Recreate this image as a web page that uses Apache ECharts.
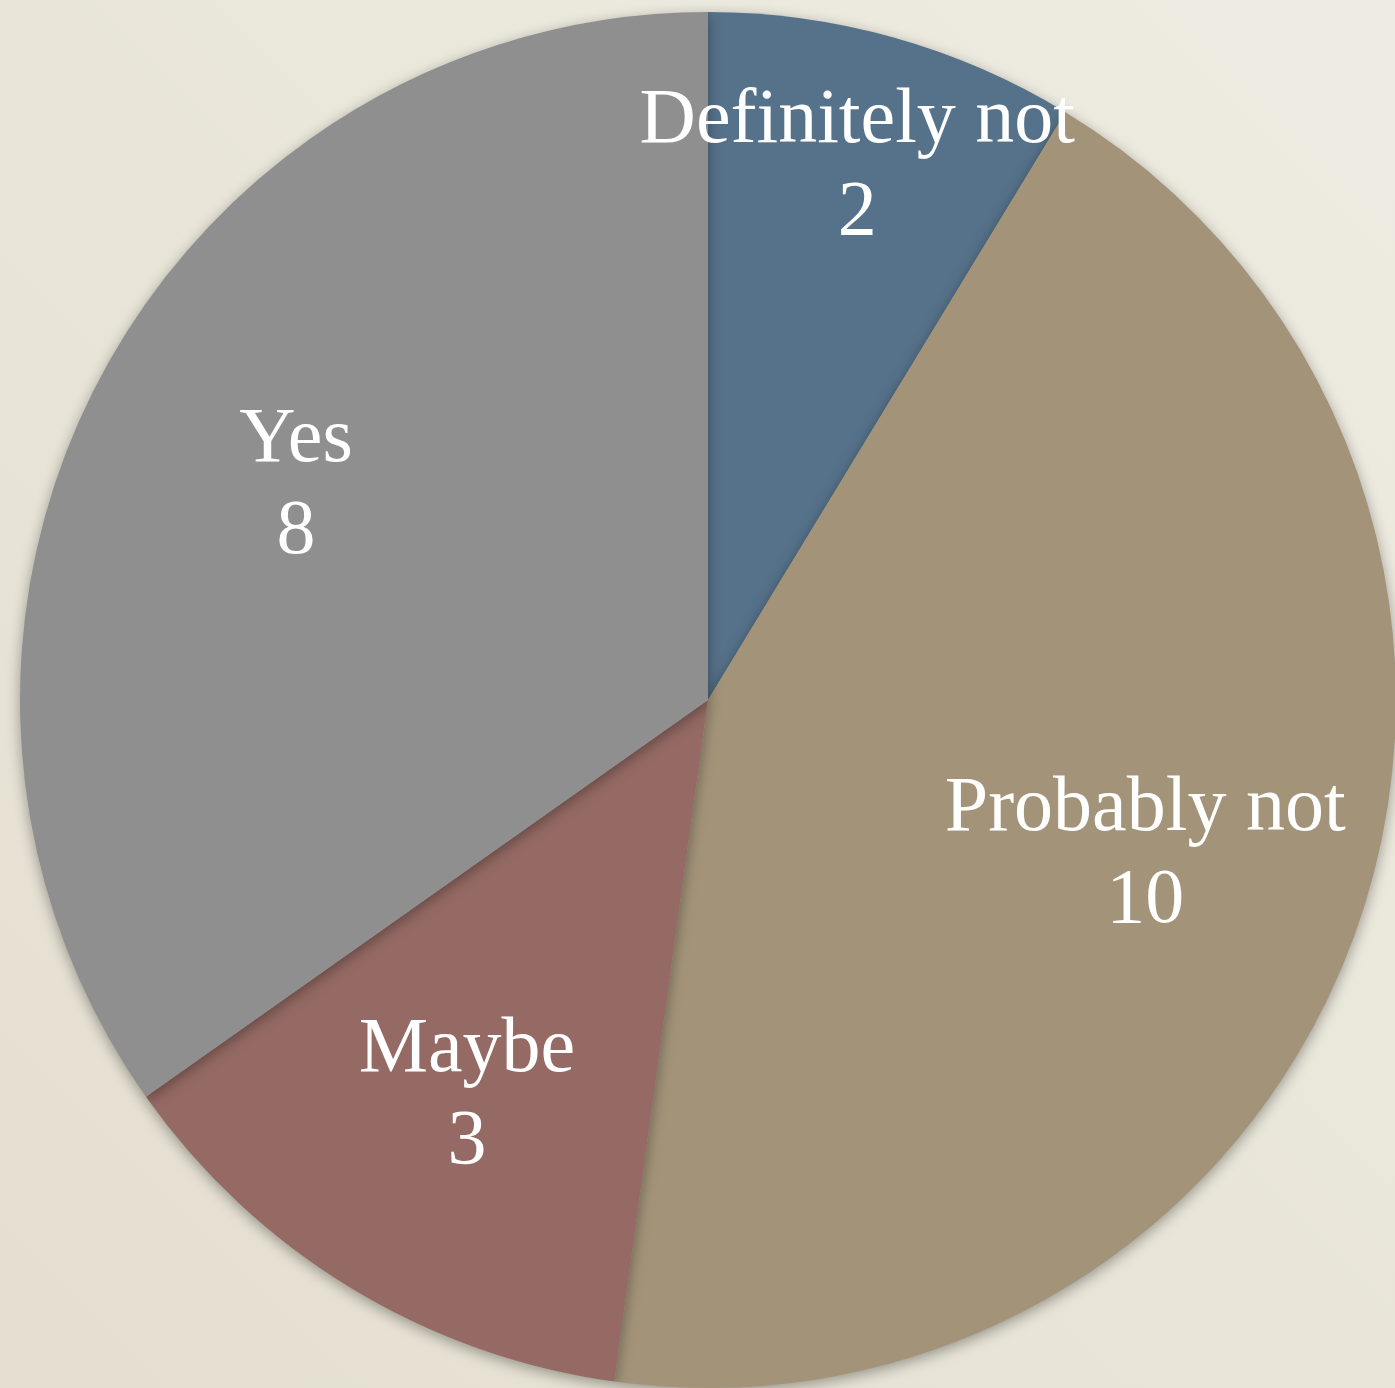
<!DOCTYPE html>
<html>
<head>
<meta charset="utf-8">
<script src="https://cdn.jsdelivr.net/npm/echarts@6/dist/echarts.min.js"></script>
<style>
html,body{margin:0;padding:0;background:#e9e5d9;}
#chart{width:1395px;height:1388px;}
</style>
</head>
<body>
<div id="chart"></div>
<script>
const categories = ['Definitely not', 'Probably not', 'Maybe', 'Yes'];
const values = [2, 10, 3, 8];
const colors = ['#56728a', '#a39479', '#956a64', '#8f8f8f'];

const chart = echarts.init(document.getElementById('chart'));
const R = 688;
const center = [708, 700];
const font = '"Liberation Serif", "DejaVu Serif", serif';

function makeData(showIdx) {
  return categories.map((c, i) => ({
    name: c,
    value: values[i],
    label: { show: showIdx.indexOf(i) >= 0 }
  }));
}

const labelStyle = {
  position: 'inside',
  formatter: '{b}\n{c}',
  color: '#ffffff',
  fontFamily: font,
  fontSize: 78,
  lineHeight: 92,
  align: 'center'
};

chart.setOption({
  backgroundColor: {
    type: 'linear', x: 0, y: 1, x2: 1, y2: 0,
    colorStops: [{offset: 0, color: '#e4dfd0'}, {offset: 1, color: '#eeece2'}]
  },
  color: colors,
  animation: false,
  series: [
    {
      type: 'pie',
      center: center,
      radius: [0, R],
      startAngle: 90,
      clockwise: true,
      silent: true,
      data: makeData([]),
      label: { show: false },
      labelLine: { show: false },
      itemStyle: {
        borderWidth: 0,
        shadowBlur: 14,
        shadowColor: 'rgba(0,0,0,0.35)',
        shadowOffsetY: 4
      }
    },
    {
      type: 'pie',
      center: center,
      radius: [R * 0.34, R],
      startAngle: 90,
      silent: true,
      data: makeData([1, 2, 3]),
      itemStyle: { color: 'rgba(0,0,0,0)' },
      label: labelStyle,
      labelLine: { show: false }
    },
    {
      type: 'pie',
      center: center,
      radius: [R * 0.6, R],
      startAngle: 90,
      silent: true,
      data: makeData([0]),
      itemStyle: { color: 'rgba(0,0,0,0)' },
      label: labelStyle,
      labelLine: { show: false }
    }
  ]
});
</script>
</body>
</html>
